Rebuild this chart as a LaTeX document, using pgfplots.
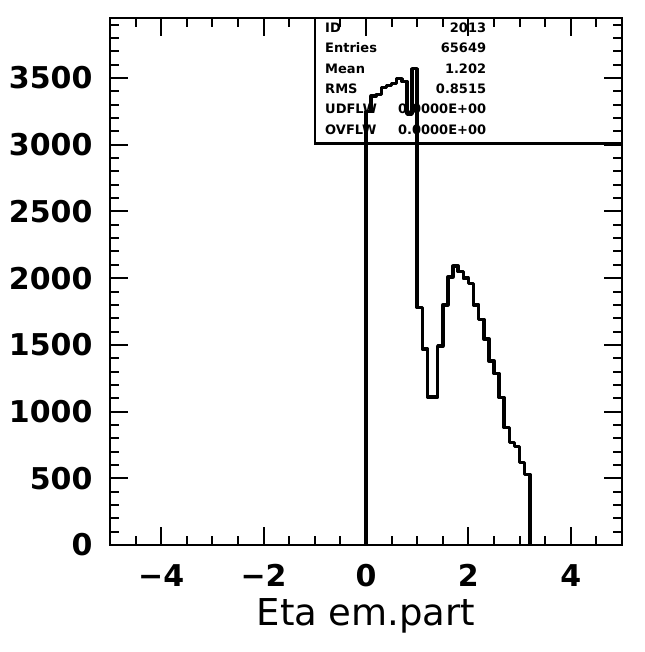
\documentclass[border=0pt]{standalone}
\usepackage{fontspec}
\setmainfont{DejaVu Sans}
\usepackage{pgfplots}
\pgfplotsset{compat=1.18}
\usepackage{pgfplotstable}

% Eta of the electromagnetic part, 0.1 wide bins (left edge, contents);
% the first and last rows close the contour down to zero.
\pgfplotstableread{
x    n
0.0  0
0.0  3250
0.1  3365
0.2  3375
0.3  3430
0.4  3445
0.5  3460
0.6  3495
0.7  3475
0.8  3230
0.9  3570
1.0  1780
1.1  1470
1.2  1110
1.3  1110
1.4  1490
1.5  1800
1.6  2010
1.7  2090
1.8  2050
1.9  2000
2.0  1960
2.1  1800
2.2  1690
2.3  1545
2.4  1380
2.5  1285
2.6  1105
2.7  880
2.8  770
2.9  740
3.0  620
3.1  528
3.2  0
}\etadata

\begin{document}
\begin{tikzpicture}
\begin{axis}[
  scale only axis, width=512pt, height=527pt,
  xmin=-5, xmax=5, ymin=0, ymax=3950,
  xtick={-4,-2,0,2,4}, xticklabels={−4,−2,0,2,4},
  ytick={0,500,...,3500},
  yticklabels={0,500,1000,1500,2000,2500,3000,3500},
  minor xtick={-4.5,-4,...,4.5}, minor ytick={100,200,...,3900},
  tick align=inside, xtick pos=both, ytick pos=both,
  xticklabel pos=bottom, yticklabel pos=left,
  major tick length=18pt, minor tick length=9pt,
  every tick/.style={line width=2pt, black},
  axis line style={line width=2.5pt},
  ticklabel style={font=\bfseries\fontsize{30}{30}\selectfont},
  xticklabel style={yshift=-16pt},
  yticklabel style={xshift=-14pt},
  xlabel={Eta em.part},
  xlabel style={font=\fontsize{37}{37}\selectfont, yshift=-4pt},
  clip=false,
]
% statistics box
\draw[line width=2.5pt] (axis cs:-1,3950) -- (axis cs:-1,3010) -- (axis cs:5,3010);
\begin{scope}[every node/.style={font=\bfseries\fontsize{13}{13}\selectfont, inner sep=0pt}]
\node[anchor=west] at (axis cs:-0.8,3880) {ID};
\node[anchor=west] at (axis cs:-0.8,3725) {Entries};
\node[anchor=west] at (axis cs:-0.8,3570) {Mean};
\node[anchor=west] at (axis cs:-0.8,3420) {RMS};
\node[anchor=west] at (axis cs:-0.8,3270) {UDFLW};
\node[anchor=west] at (axis cs:-0.8,3115) {OVFLW};
\node[anchor=east] at (axis cs:2.35,3880) {2013};
\node[anchor=east] at (axis cs:2.35,3725) {65649};
\node[anchor=east] at (axis cs:2.35,3570) {1.202};
\node[anchor=east] at (axis cs:2.35,3420) {0.8515};
\node[anchor=east] at (axis cs:2.35,3270) {0.0000E+00};
\node[anchor=east] at (axis cs:2.35,3115) {0.0000E+00};
\end{scope}
\addplot[const plot, line width=3.5pt, line join=round, black] table[x=x, y=n] {\etadata};
\end{axis}
\path (current axis.south west) +(-110pt,-107pt) (current axis.north east) +(23pt,18pt);
\end{tikzpicture}
\end{document}
